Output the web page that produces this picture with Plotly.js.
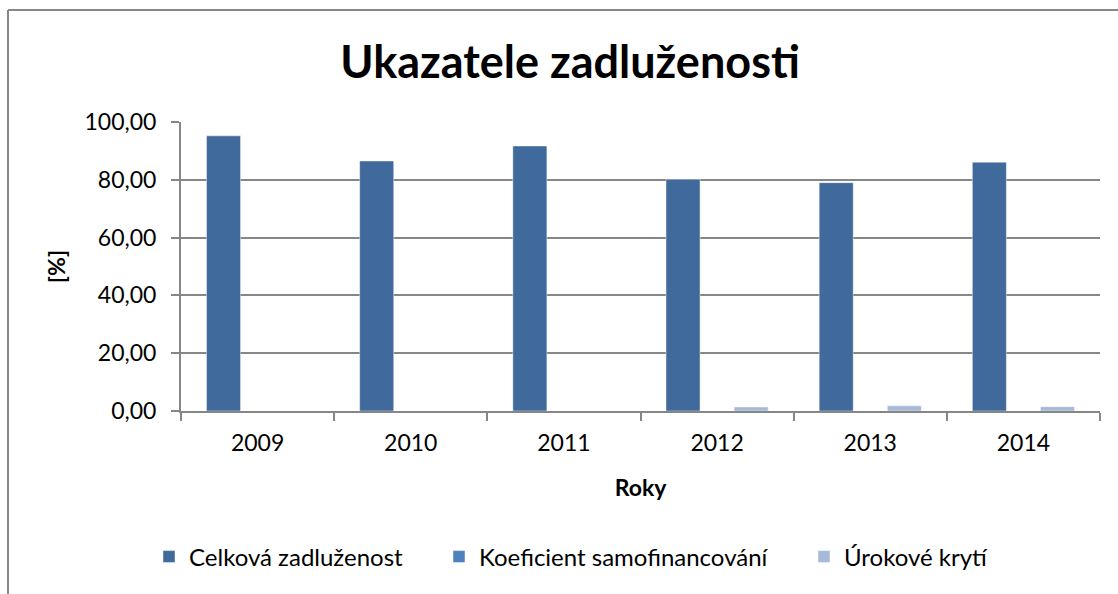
<!DOCTYPE html>
<html>
<head>
<meta charset="utf-8">
<script src="https://cdn.plot.ly/plotly-3.0.1.min.js"></script>
<style>
html,body{margin:0;padding:0;background:#fff;}
#chart{width:1118px;height:594px;}
</style>
</head>
<body>
<div id="chart"></div>
<script>
const years = ["2009", "2010", "2011", "2012", "2013", "2014"];
const celkovaZadluzenost = [95.2, 86.5, 91.7, 80.2, 79.0, 86.1];
const koeficientSamofinancovani = [0, 0, 0, 0, 0, 0];
const urokoveKryti = [0, 0, 0, 1.4, 1.8, 1.5];
const seriesNames = ["Celková zadluženost", "Koeficient samofinancování", "Úrokové krytí"];
const seriesColors = ["#3F6A9B", "#4F81BD", "#A7B9D8"];
const seriesValues = [celkovaZadluzenost, koeficientSamofinancovani, urokoveKryti];
const legendIds = ["legend", "legend2", "legend3"];
const legendX = [163, 453, 818];

const font = "Lato, 'Open Sans', 'Noto Sans', sans-serif";

const traces = seriesValues.map((vals, i) => ({
  type: "bar",
  name: seriesNames[i],
  x: years,
  y: vals,
  legend: legendIds[i],
  showlegend: true,
  marker: {color: seriesColors[i], line: {color: "rgba(255,255,255,0.45)", width: 1}},
  hoverinfo: "x+y+name"
}));

const layout = {
  width: 1118,
  height: 594,
  showlegend: true,
  margin: {l: 181, r: 18, t: 122, b: 183},
  paper_bgcolor: "#fff",
  plot_bgcolor: "#fff",
  separators: ", ",
  barmode: "group",
  bargap: 0.333,
  bargroupgap: 0,
  font: {family: font, color: "#000", size: 23},
  title: {
    text: "<b>Ukazatele zadluženosti</b>",
    font: {family: font, size: 45, color: "#000"},
    x: 570 / 1118, xanchor: "center", xref: "container",
    y: 1 - 62/594, yref: "container", yanchor: "middle"
  },
  xaxis: {
    type: "category",
    showline: true, linecolor: "#868686", linewidth: 2,
    ticks: "outside", tickson: "boundaries", ticklen: 8, tickcolor: "#868686", tickwidth: 2,
    showgrid: false,
    ticklabelstandoff: 10,
    tickfont: {family: font, size: 23, color: "#000"},
    title: {text: "<b>Roky</b>", font: {family: font, size: 23, color: "#000"}, standoff: 25}
  },
  yaxis: {
    range: [0, 100],
    dtick: 20,
    tick0: 0,
    tickformat: ".2f",
    showline: true, linecolor: "#868686", linewidth: 2,
    ticks: "outside", ticklen: 8, tickcolor: "#868686", tickwidth: 2,
    showgrid: true, gridcolor: "#868686", gridwidth: 2,
    zeroline: false,
    ticklabelstandoff: 10,
    tickfont: {family: font, size: 23, color: "#000"},
    title: {text: "<b>[%]</b>", font: {family: font, size: 23, color: "#000"}, standoff: 12}
  },
  shapes: [
    {type: "line", xref: "paper", yref: "paper",
     x0: -173/919, x1: 1.1, y0: (594-10-183)/289, y1: (594-10-183)/289,
     line: {color: "#888888", width: 2}},
    {type: "line", xref: "paper", yref: "paper",
     x0: -173/919, x1: -173/919, y0: (594-10-183)/289, y1: -0.8,
     line: {color: "#888888", width: 2}}
  ]
};

legendIds.forEach((id, i) => {
  layout[id] = {
    visible: true,
    orientation: "h",
    x: (legendX[i] - 14) / 1118, xanchor: "left", xref: "container",
    y: (594 - 557) / 594, yref: "container", yanchor: "middle",
    font: {family: font, size: 24, color: "#000"},
    itemwidth: 30,
    bgcolor: "rgba(0,0,0,0)"
  };
});

Plotly.newPlot("chart", traces, layout, {displayModeBar: false, staticPlot: true});
</script>
</body>
</html>
